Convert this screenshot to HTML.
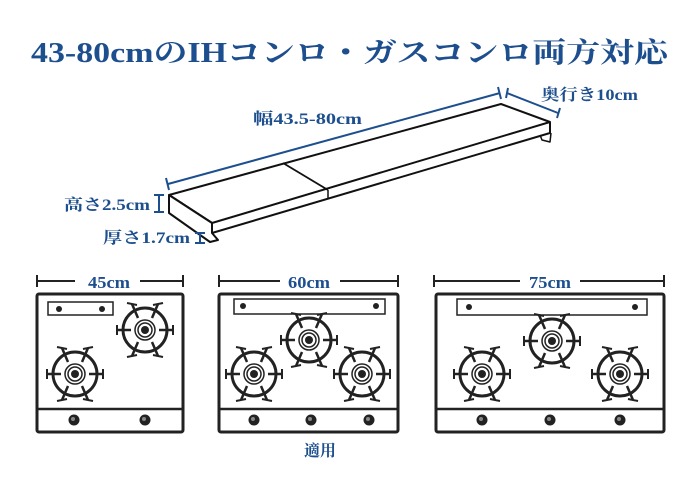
<!DOCTYPE html>
<html><head><meta charset="utf-8"><style>
body{margin:0;background:#fff;width:700px;height:486px;overflow:hidden}
svg{display:block}
.t{font-family:"Liberation Serif","Noto Serif CJK SC",serif;font-weight:bold;fill:#1d4f8e}
</style></head><body>
<svg width="700" height="486" viewBox="0 0 700 486">
<defs>
<g id="b" fill="none" stroke="#222">
<circle r="22" stroke-width="3"/>
<circle r="10" stroke-width="1.5"/>
<circle r="7" stroke-width="1.5"/>
<circle r="4" fill="#222" stroke="none"/>
<g stroke-width="2.5">
<line x1="-28" y1="0" x2="-14" y2="0"/><line x1="14" y1="0" x2="28" y2="0"/>
<line x1="-7" y1="-12" x2="-13" y2="-26"/><line x1="7" y1="-12" x2="13" y2="-26"/>
<line x1="-7" y1="12" x2="-13" y2="26"/><line x1="7" y1="12" x2="13" y2="26"/>
</g>
<g stroke-width="2"><line x1="-18" y1="-27" x2="-8" y2="-25"/><line x1="18" y1="-27" x2="8" y2="-25"/><line x1="-18" y1="27" x2="-8" y2="25"/><line x1="18" y1="27" x2="8" y2="25"/><line x1="-28" y1="-5" x2="-28" y2="5"/><line x1="28" y1="-5" x2="28" y2="5"/></g>
</g>
<g id="k"><circle r="5.5" fill="#222"/><circle r="2" cx="-1" cy="-1" fill="#888"/></g>
</defs>
<text x="31" y="62" class="t" font-size="28" textLength="637" lengthAdjust="spacingAndGlyphs">43-80cmのIHコンロ・ガスコンロ両方対応</text>

<g fill="#fff" stroke="#111" stroke-width="2" stroke-linejoin="round">
<polygon points="169,195 501,104 550,122 550,133 212,233 212,223"/>
<polyline points="169,195 212,223 550,122" fill="none"/>
<line x1="212" y1="233" x2="212" y2="223"/>
<polygon points="169,195 169,213 210,242 218,240 212,233 212,223" />
<line x1="283" y1="163" x2="328" y2="190" stroke-width="1.8"/>
<line x1="328" y1="190" x2="328" y2="198" stroke-width="1.5"/>
<polyline points="540,135 542,140 550,142 551,133" fill="none" stroke-width="1.5"/>
</g>
<g stroke="#1d4f8e" stroke-width="2" fill="none">
<line x1="168" y1="184" x2="500" y2="93"/><line x1="166" y1="178" x2="169" y2="190"/><line x1="498" y1="87" x2="501" y2="99"/>
<line x1="507" y1="93" x2="558" y2="113"/><line x1="508" y1="88" x2="506" y2="98"/><line x1="560" y1="108" x2="557" y2="118"/>
<line x1="159" y1="195" x2="159" y2="212"/><line x1="154" y1="195" x2="164" y2="195"/><line x1="154" y1="212" x2="164" y2="212"/>
<line x1="200" y1="233" x2="200" y2="243"/><line x1="195" y1="233" x2="205" y2="233"/><line x1="195" y1="243" x2="205" y2="243"/>
</g>
<text x="253" y="124" class="t" font-size="16" textLength="109" lengthAdjust="spacingAndGlyphs">幅43.5-80cm</text>
<text x="541" y="100" class="t" font-size="16" textLength="97" lengthAdjust="spacingAndGlyphs">奥行き10cm</text>
<text x="64" y="210" class="t" font-size="16" textLength="86" lengthAdjust="spacingAndGlyphs">高さ2.5cm</text>
<text x="103" y="243" class="t" font-size="16" textLength="87" lengthAdjust="spacingAndGlyphs">厚さ1.7cm</text>

<g stroke="#222" stroke-width="2">
<line x1="37" y1="281" x2="75" y2="281"/><line x1="140" y1="281" x2="183" y2="281"/><line x1="37" y1="275" x2="37" y2="287"/><line x1="183" y1="275" x2="183" y2="287"/>
<line x1="219" y1="281" x2="280" y2="281"/><line x1="340" y1="281" x2="398" y2="281"/><line x1="219" y1="275" x2="219" y2="287"/><line x1="398" y1="275" x2="398" y2="287"/>
<line x1="434" y1="281" x2="520" y2="281"/><line x1="580" y1="281" x2="664" y2="281"/><line x1="434" y1="275" x2="434" y2="287"/><line x1="664" y1="275" x2="664" y2="287"/>
</g>
<text x="88" y="288" class="t" font-size="17" textLength="42" lengthAdjust="spacingAndGlyphs">45cm</text>
<text x="288" y="288" class="t" font-size="17" textLength="42" lengthAdjust="spacingAndGlyphs">60cm</text>
<text x="529" y="288" class="t" font-size="17" textLength="42" lengthAdjust="spacingAndGlyphs">75cm</text>

<g fill="none" stroke="#222">
<rect x="37" y="294" width="146" height="138" rx="2" stroke-width="3"/>
<line x1="37" y1="409" x2="183" y2="409" stroke-width="2.5"/>
<rect x="48" y="302" width="65" height="13" stroke-width="1.5"/>
<rect x="219" y="294" width="179" height="138" rx="2" stroke-width="3"/>
<line x1="219" y1="409" x2="398" y2="409" stroke-width="2.5"/>
<rect x="234" y="299" width="151" height="15" stroke-width="1.5"/>
<rect x="436" y="294" width="228" height="138" rx="2" stroke-width="3"/>
<line x1="436" y1="409" x2="664" y2="409" stroke-width="2.5"/>
<rect x="457" y="299" width="190" height="16" stroke-width="1.5"/>
</g>
<g fill="#222">
<circle cx="59" cy="309" r="3"/><circle cx="102" cy="309" r="3"/>
<circle cx="243" cy="306" r="3"/><circle cx="376" cy="306" r="3"/>
<circle cx="469" cy="307" r="3"/><circle cx="635" cy="307" r="3"/>
</g>
<use href="#b" x="145" y="330"/><use href="#b" x="75" y="374"/>
<use href="#b" x="309" y="340"/><use href="#b" x="254" y="374"/><use href="#b" x="362" y="374"/>
<use href="#b" x="552" y="341"/><use href="#b" x="482" y="374"/><use href="#b" x="620" y="374"/>
<use href="#k" x="74" y="420"/><use href="#k" x="145" y="420"/>
<use href="#k" x="254" y="420"/><use href="#k" x="311" y="420"/><use href="#k" x="369" y="420"/>
<use href="#k" x="482" y="420"/><use href="#k" x="550" y="420"/><use href="#k" x="620" y="420"/>
<text x="320" y="456" class="t" font-size="16" text-anchor="middle">適用</text>
</svg>
</body></html>
